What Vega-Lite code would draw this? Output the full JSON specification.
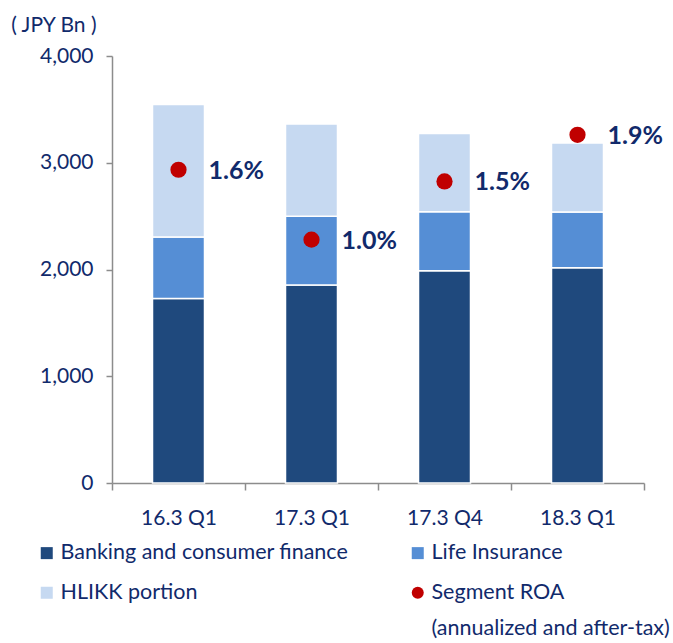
{
  "$schema": "https://vega.github.io/schema/vega-lite/v6.json",
  "width": 532,
  "height": 427,
  "autosize": {"type": "none"},
  "padding": {"left": 112, "top": 56, "right": 29, "bottom": 160},
  "background": "white",
  "config": {
    "view": {"stroke": null},
    "font": "Lato",
    "style": {"guide-label": {"lineHeight": 36}},
    "axis": {
      "domainColor": "#8C8C8C",
      "domainWidth": 1.5,
      "tickColor": "#8C8C8C",
      "tickWidth": 1.5,
      "labelColor": "#112A6B",
      "labelFont": "Lato",
      "labelFontSize": 21,
      "grid": false
    }
  },
  "datasets": {
    "assets": [
      {"period": "16.3 Q1", "segment": "Banking and consumer finance", "k": 1, "amount": 1729},
      {"period": "16.3 Q1", "segment": "Life Insurance", "k": 2, "amount": 575},
      {"period": "16.3 Q1", "segment": "HLIKK portion", "k": 3, "amount": 1242},
      {"period": "17.3 Q1", "segment": "Banking and consumer finance", "k": 1, "amount": 1854},
      {"period": "17.3 Q1", "segment": "Life Insurance", "k": 2, "amount": 646},
      {"period": "17.3 Q1", "segment": "HLIKK portion", "k": 3, "amount": 864},
      {"period": "17.3 Q4", "segment": "Banking and consumer finance", "k": 1, "amount": 1988},
      {"period": "17.3 Q4", "segment": "Life Insurance", "k": 2, "amount": 554},
      {"period": "17.3 Q4", "segment": "HLIKK portion", "k": 3, "amount": 733},
      {"period": "18.3 Q1", "segment": "Banking and consumer finance", "k": 1, "amount": 2016},
      {"period": "18.3 Q1", "segment": "Life Insurance", "k": 2, "amount": 523},
      {"period": "18.3 Q1", "segment": "HLIKK portion", "k": 3, "amount": 645}
    ],
    "roa": [
      {"period": "16.3 Q1", "roa": 0.016},
      {"period": "17.3 Q1", "roa": 0.010},
      {"period": "17.3 Q4", "roa": 0.015},
      {"period": "18.3 Q1", "roa": 0.019}
    ]
  },
  "layer": [
    {
      "data": {"name": "assets"},
      "mark": {"type": "bar", "size": 52, "stroke": "white", "strokeWidth": 1.5},
      "encoding": {
        "x": {
          "field": "period", "type": "nominal",
          "sort": ["16.3 Q1", "17.3 Q1", "17.3 Q4", "18.3 Q1"],
          "scale": {"paddingInner": 0, "paddingOuter": 0},
          "axis": {"title": null, "tickBand": "extent", "tickSize": 7, "labelPadding": 17, "labelAngle": 0}
        },
        "y": {
          "field": "amount", "type": "quantitative", "stack": "zero",
          "scale": {"domain": [0, 4000], "nice": false},
          "axis": {
            "values": [0, 1000, 2000, 3000, 4000],
            "format": ",.0f",
            "tickSize": 6,
            "labelPadding": 13,
            "title": "( JPY Bn )",
            "titleAngle": 0,
            "titleAlign": "right",
            "titleBaseline": "middle",
            "titleX": -16,
            "titleY": -31,
            "titleFont": "Lato",
            "titleFontSize": 21,
            "titleFontWeight": "normal",
            "titleColor": "#112A6B"
          }
        },
        "color": {
          "field": "segment", "type": "nominal",
          "scale": {
            "domain": ["Banking and consumer finance", "Life Insurance", "HLIKK portion", "Segment ROA"],
            "range": ["#1F497D", "#558ED5", "#C6D9F1", "#C00000"]
          },
          "legend": {
            "title": null,
            "orient": "none",
            "direction": "horizontal",
            "legendX": -76,
            "legendY": 486,
            "values": ["Banking and consumer finance", "Life Insurance", "HLIKK portion", "Segment ROA"],
            "columns": 2,
            "columnPadding": 58,
            "rowPadding": 17,
            "padding": 0,
            "symbolSize": 144,
            "symbolStrokeWidth": 0,
            "labelOffset": 3,
            "labelFont": "Lato",
            "labelFontSize": 21.5,
            "labelColor": "#112A6B",
            "labelLimit": 400,
            "labelExpr": "datum.value === 'Segment ROA' ? ['Segment ROA', '(annualized and after-tax)'] : datum.label"
          }
        },
        "order": {"field": "k", "type": "quantitative"}
      }
    },
    {
      "data": {"name": "roa"},
      "mark": {"type": "point", "filled": true, "size": 263, "opacity": 1},
      "encoding": {
        "x": {"field": "period", "type": "nominal", "sort": ["16.3 Q1", "17.3 Q1", "17.3 Q4", "18.3 Q1"]},
        "y": {
          "field": "roa", "type": "quantitative",
          "scale": {"domain": [-0.0109, 0.02577], "nice": false, "zero": false},
          "axis": null
        },
        "color": {"datum": "Segment ROA"},
        "shape": {
          "datum": "Segment ROA",
          "scale": {
            "domain": ["Banking and consumer finance", "Life Insurance", "HLIKK portion", "Segment ROA"],
            "range": ["square", "square", "square", "circle"]
          }
        }
      }
    },
    {
      "data": {"name": "roa"},
      "mark": {"type": "text", "align": "left", "baseline": "middle", "dx": 30, "dy": 1, "font": "Lato", "fontSize": 25, "fontWeight": "bold", "color": "#112A6B"},
      "encoding": {
        "x": {"field": "period", "type": "nominal", "sort": ["16.3 Q1", "17.3 Q1", "17.3 Q4", "18.3 Q1"]},
        "y": {
          "field": "roa", "type": "quantitative",
          "scale": {"domain": [-0.0109, 0.02577], "nice": false, "zero": false},
          "axis": null
        },
        "text": {"field": "roa", "format": ".1%"}
      }
    }
  ],
  "resolve": {"scale": {"y": "independent"}}
}
